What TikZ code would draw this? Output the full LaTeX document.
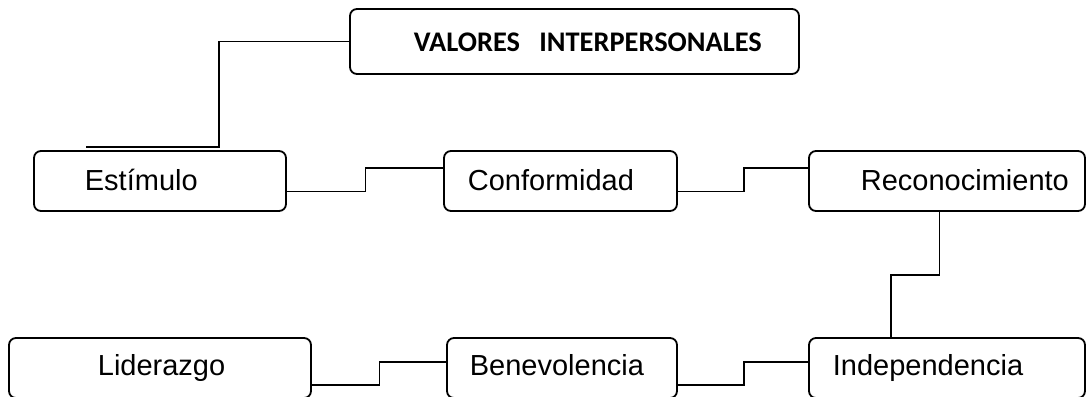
\documentclass[tikz,border=0pt]{standalone}
\usepackage{fontspec}
\setmainfont{Liberation Sans}
\newfontfamily\titlefont{Carlito}
\usepackage{tikz}

\begin{document}
\begin{tikzpicture}[x=0.5pt,y=-0.5pt,line width=0.9pt,
    caja/.style={draw,rounded corners=3.5pt,minimum height=30pt,inner sep=0pt},
    texto/.style={anchor=base west,inner sep=0pt,font=\fontsize{14.5}{17}\selectfont}]
    \clip (0,0) rectangle (1086,396);
    \node[caja,minimum width=224.5pt,minimum height=32.5pt] (titulo) at (574.5,41.5) {};
    \node[anchor=base west,inner sep=0pt,font=\titlefont\bfseries\fontsize{14.2}{17}\selectfont] (ttitulo) at (413,51) {VALORES\ \ \ INTERPERSONALES};
    \foreach \n/\x/\y/\w in {estimulo/160/181/126pt,conformidad/560.5/181/116.5pt,reconocimiento/947/181/138pt,
                             liderazgo/160/368/151pt,benevolencia/562/368/115pt,independencia/947/368/138pt}
    {
        \node[caja,minimum width=\w] (\n) at (\x,\y) {};
    }
    \foreach \n/\x/\y/\t in {estimulo/84/190.5/Estímulo,conformidad/467/190.5/Conformidad,reconocimiento/860/190.5/Reconocimiento,
                             liderazgo/97/375/Liderazgo,benevolencia/469/375/Benevolencia,independencia/832/375/Independencia}
    {
        \node[texto] (t\n) at (\x,\y) {\t};
    }
    \coordinate (esquina) at (219,147);
    \coordinate (fin) at (86,147);
    \draw (titulo.west) -| (esquina) -- (fin);
    \draw ([yshift=-5.25pt]estimulo.east) -- ++(78.6,0) |- ([yshift=6.5pt]conformidad.west);
    \draw ([yshift=-5.25pt]conformidad.east) -- ++(66,0) |- ([yshift=6.5pt]reconocimiento.west);
    \draw ([xshift=-3.75pt]reconocimiento.south) -- ++(0,63) -| ([xshift=-28pt]independencia.north);
    \draw ([yshift=-8.35pt]liderazgo.east) -- ++(67.5,0) |- ([yshift=3pt]benevolencia.west);
    \draw ([yshift=-8.5pt]benevolencia.east) -- ++(66,0) |- ([yshift=3pt]independencia.west);
\end{tikzpicture}
\end{document}
